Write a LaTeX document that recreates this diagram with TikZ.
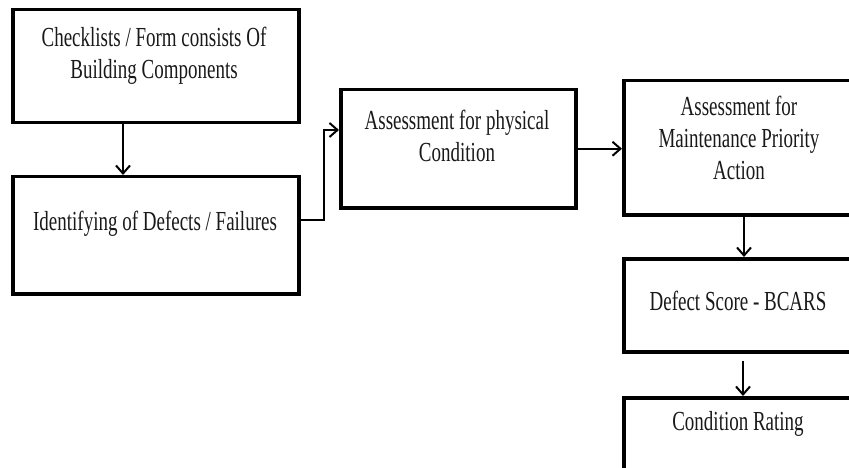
\documentclass[tikz,border=0pt]{standalone}
\usepackage{fontspec}
\setmainfont{Liberation Serif}
\usetikzlibrary{arrows.meta}
\newcommand{\stx}[1]{\scalebox{1}[1.45]{\begin{tabular}{@{}c@{}}#1\end{tabular}}}
\begin{document}
\begin{tikzpicture}[x=1pt,y=-1pt,
  box/.style={draw=black, line width=3.5pt, inner sep=0pt, anchor=north west},
  lbl/.style={inner sep=0pt, text=black!90, font=\fontsize{19}{22}\selectfont},
  arr/.style={line width=2pt, -{Straight Barb[length=8pt,width=14pt,line width=2pt]}}]
\useasboundingbox (0,0) rectangle (849,468);
\clip (0,0) rectangle (849,468);
\node[box, minimum width=286pt, minimum height=113pt] (b1) at (11,8) {};
\node[box, minimum width=286pt, minimum height=117pt] (b2) at (11,175) {};
\node[box, minimum width=235pt, minimum height=118pt] (b3) at (339,88) {};
\node[box, minimum width=236pt, minimum height=134pt] (b4) at (622,79) {};
\node[box, minimum width=236pt, minimum height=93pt] (b5) at (622,257) {};
\node[box, minimum width=236pt, minimum height=80pt] (b6) at (622,396) {};
\node[lbl] (t1) at (154,56) {\stx{Checklists / Form consists Of\\Building Components}};
\node[lbl] (t2) at (155,224) {\stx{Identifying of Defects / Failures}};
\node[lbl] (t3) at (457,139) {\stx{Assessment for physical\\Condition}};
\node[lbl] (t4) at (739,141) {\stx{Assessment for\\Maintenance Priority\\Action}};
\node[lbl] (t5) at (738,304) {\stx{Defect Score - BCARS}};
\node[lbl] (t6) at (738,424) {\stx{Condition Rating}};
\draw[arr] ([xshift=112pt]b1.south west) -- ([xshift=112pt]b2.north west);
\draw[arr] ([yshift=-45pt]b2.north east) -- ++(23pt,0) |- ([yshift=-42pt]b3.north west);
\draw[arr] (b3.east) -- (b4.west |- b3.east);
\draw[arr] ([xshift=122pt]b4.south west) -- ([xshift=122pt]b5.north west);
\draw[arr] ([xshift=121pt,yshift=-7pt]b5.south west) -- ([xshift=121pt]b6.north west);
\end{tikzpicture}
\end{document}
